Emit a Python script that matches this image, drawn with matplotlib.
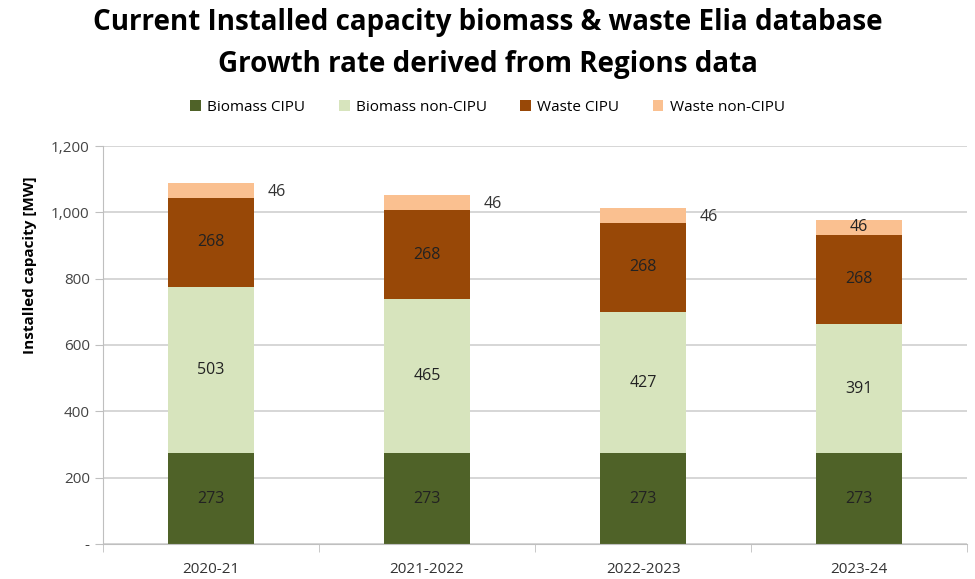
import matplotlib.pyplot as plt
import numpy as np

plt.rcParams['font.family'] = ['Open Sans', 'DejaVu Sans']

categories = ["2020-21", "2021-2022", "2022-2023", "2023-24"]
biomass_cipu = [273, 273, 273, 273]
biomass_non_cipu = [503, 465, 427, 391]
waste_cipu = [268, 268, 268, 268]
waste_non_cipu = [46, 46, 46, 46]

series = [
    ("Biomass CIPU", biomass_cipu, "#4F6228"),
    ("Biomass non-CIPU", biomass_non_cipu, "#D7E4BD"),
    ("Waste CIPU", waste_cipu, "#984807"),
    ("Waste non-CIPU", waste_non_cipu, "#FAC090"),
]

fig = plt.figure(figsize=(9.75, 5.79), dpi=100)
ax = fig.add_axes([0.1056, 0.0605, 0.8864, 0.6873])

x = np.arange(len(categories))
bottom = np.zeros(len(categories))
for name, vals, col in series:
    vals = np.array(vals, dtype=float)
    ax.bar(x, vals, 0.4, bottom=bottom, color=col, label=name, zorder=2)
    for i, v in enumerate(vals):
        if name == "Waste non-CIPU" and i < 3:
            # outside label, to the right of the bar top
            ax.text(x[i] + 0.26, bottom[i] + v - 28, f"{int(v)}", ha="left", va="center",
                    fontsize=11.5, color="#333333")
        else:
            ax.text(x[i], bottom[i] + v / 2, f"{int(v)}", ha="center", va="center",
                    fontsize=11.5, color="#222222")
    bottom += vals

ax.set_xlim(-0.5, len(categories) - 0.5)
ax.set_ylim(0, 1200)
ax.set_yticks(range(0, 1201, 200))
ax.set_yticklabels(["-"] + [f"{v:,}" for v in range(200, 1201, 200)])
ax.set_xticks(x)
ax.set_xticklabels(categories)
ax.set_xticks(np.arange(-0.5, len(categories), 1), minor=True)
ax.tick_params(axis="x", which="major", length=0, pad=13, labelsize=11, labelcolor="#333333")
ax.tick_params(axis="x", which="minor", length=6, color="#BFBFBF")
ax.tick_params(axis="y", length=6, color="#BFBFBF", labelsize=11, labelcolor="#444444")
ax.grid(axis="y", color="#D0D0D0", linewidth=1.2, zorder=0)
for s in ["top", "right"]:
    ax.spines[s].set_visible(False)
ax.spines["left"].set_color("#BFBFBF")
ax.spines["bottom"].set_color("#BFBFBF")

fig.text(30 / 975, 1 - 265 / 579, "Installed capacity [MW]", rotation=90, ha="center", va="center",
         fontsize=11, fontweight="bold")

fig.text(0.5, 0.986, "Current Installed capacity biomass & waste Elia database\nGrowth rate derived from Regions data",
         ha="center", va="top", fontsize=20, fontweight="bold", linespacing=1.6)

fig.legend(loc="center", bbox_to_anchor=(0.5, 0.815), ncol=4, frameon=False, fontsize=11,
           handlelength=0.7, handleheight=0.7, handletextpad=0.4, columnspacing=2.2)

fig.savefig("out.png", dpi=100)
